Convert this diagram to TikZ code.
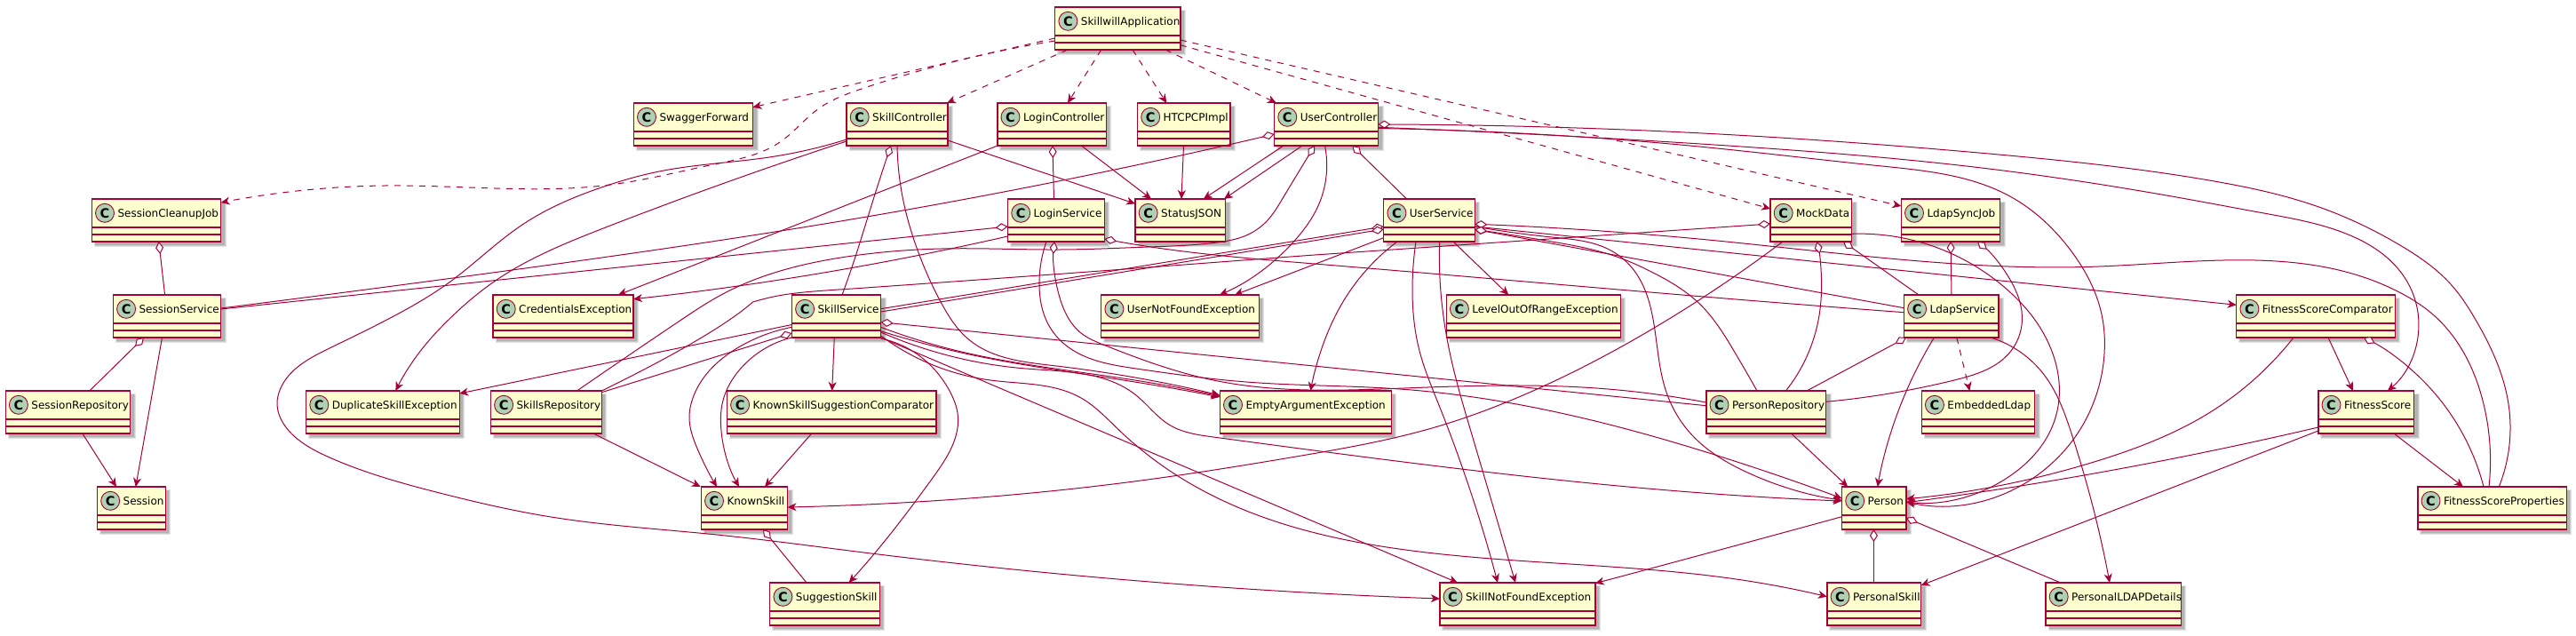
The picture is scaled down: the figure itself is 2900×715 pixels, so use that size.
\documentclass[tikz,border=0pt]{standalone}
\usepackage{fontspec}
\setmainfont{DejaVu Sans}
\usetikzlibrary{arrows.meta,hobby}
\definecolor{uline}{HTML}{A80036}
\definecolor{ufill}{HTML}{FEFECE}
\definecolor{ucirc}{HTML}{ADD1B2}
\tikzset{
  clsbox/.style={draw=uline,fill=ufill,line width=1.4pt,rectangle,inner sep=0pt,outer sep=0pt,anchor=north west,minimum height=48pt},
  clstext/.style={anchor=base west,inner sep=0pt,font=\fontsize{12}{14}\selectfont},
  clscirc/.style={circle,draw=uline,fill=ucirc,line width=.9pt,minimum size=21pt,inner sep=0pt},
  clsc/.style={inner sep=0pt,font=\fontsize{14.5}{16}\selectfont\bfseries},
  sep/.style={draw=uline,line width=1.4pt},
  shd/.style={fill=black,fill opacity=.11},
  conn/.style={draw=uline,line width=1pt},
  dep/.style={conn,-{Stealth[length=10pt,width=9pt,inset=3pt,fill=uline]}},
  depd/.style={dep,dash pattern=on 7pt off 7pt},
  agg/.style={conn,{Diamond[length=14pt,width=9pt,fill=white,line width=1pt]}-},
  hob/.style={use Hobby shortcut}
}
\newcommand{\cls}[5]{%
  \pgfmathsetmacro{\clsW}{#3-#2}%
  \fill[shd] (#2+2.5,#4+2.5) rectangle (#3+6,#4+54);
  \fill[shd] (#2+3.5,#4+3.5) rectangle (#3+5,#4+53);
  \fill[shd] (#2+4,#4+4) rectangle (#3+4,#4+52);
  \node[clsbox,minimum width=\clsW pt] (#1) at (#2,#4) {};
  \draw[sep] (#2,#4+32) -- (#3,#4+32);
  \draw[sep] (#2,#4+40) -- (#3,#4+40);
  \node[clscirc] (#1C) at (#2+14.7,#4+15.8) {};
  \node[clsc] (#1K) at (#2+14.7,#4+15.8) {C};
  \node[clstext] (#1T) at (#2+29,#4+20) {#5};
}
\begin{document}
\begin{tikzpicture}[x=1pt,y=-1pt]
\useasboundingbox (0,0) rectangle (2900,715);
\fill[white] (0,0) rectangle (2900,715);
% classes
\cls{SkillwillApplication}{1187.7}{1328.8}{8}{SkillwillApplication}
\cls{SwaggerForward}{713.3}{847.5}{116}{SwaggerForward}
\cls{SkillController}{953}{1067}{116}{SkillController}
\cls{LoginController}{1122.8}{1245.3}{116}{LoginController}
\cls{HTCPCPImpl}{1280.5}{1385}{116}{HTCPCPImpl}
\cls{UserController}{1434.6}{1551.5}{116}{UserController}
\cls{SessionCleanupJob}{103.3}{248.7}{224}{SessionCleanupJob}
\cls{LoginService}{1134.5}{1243.4}{224}{LoginService}
\cls{StatusJSON}{1278}{1379.5}{224}{StatusJSON}
\cls{UserService}{1557.7}{1660.3}{224}{UserService}
\cls{MockData}{1993}{2084.6}{224}{MockData}
\cls{LdapSyncJob}{2140.3}{2251.7}{224}{LdapSyncJob}
\cls{SessionService}{127.4}{248.7}{332}{SessionService}
\cls{CredentialsException}{555}{713}{332}{CredentialsException}
\cls{SkillService}{891.4}{991.6}{332}{SkillService}
\cls{UserNotFoundException}{1239.7}{1417.2}{332}{UserNotFoundException}
\cls{LevelOutOfRangeException}{1628.2}{1824.3}{332}{LevelOutOfRangeException}
\cls{LdapService}{2143.4}{2249.8}{332}{LdapService}
\cls{FitnessScoreComparator}{2517.7}{2696.4}{332}{FitnessScoreComparator}
\cls{SessionRepository}{6.2}{146.6}{440}{SessionRepository}
\cls{DuplicateSkillException}{344.6}{517.2}{440}{DuplicateSkillException}
\cls{SkillsRepository}{552.4}{677.4}{440}{SkillsRepository}
\cls{KnownSkillSuggestionComparator}{818.4}{1054}{440}{KnownSkillSuggestionComparator}
\cls{EmptyArgumentException}{1373.3}{1566.3}{440}{EmptyArgumentException}
\cls{PersonRepository}{1920.8}{2055.6}{440}{PersonRepository}
\cls{EmbeddedLdap}{2163.2}{2290.6}{440}{EmbeddedLdap}
\cls{FitnessScore}{2609.8}{2717.5}{440}{FitnessScore}
\cls{Session}{109.5}{186.2}{548}{Session}
\cls{KnownSkill}{789.3}{886.5}{548}{KnownSkill}
\cls{Person}{2073.5}{2145.9}{548}{Person}
\cls{FitnessScoreProperties}{2721.8}{2889.4}{548}{FitnessScoreProperties}
\cls{SuggestionSkill}{866.7}{990.4}{656}{SuggestionSkill}
\cls{SkillNotFoundException}{1620.8}{1795.8}{656}{SkillNotFoundException}
\cls{PersonalSkill}{2056.8}{2162.6}{656}{PersonalSkill}
\cls{PersonalLDAPDetails}{2303}{2455.2}{656}{PersonalLDAPDetails}
% SkillwillApplication
\draw[depd] (SkillwillApplication.west |- 0,43) -- (SwaggerForward.east |- 0,120.7);
\draw[depd,hob] (SkillwillApplication.west |- 0,46) .. (970,100) .. (922,122) .. (878,160) .. (804,185) .. (687,208) .. (557,212) .. (433,209) .. (334,215) .. (SessionCleanupJob.east |- 0,228);
\draw[depd] (SkillwillApplication.south -| 1202,0) -- (SkillController.north -| 1066,0);
\draw[depd] (SkillwillApplication.south -| 1239.7,0) -- (LoginController.north -| 1202,0);
\draw[depd] (SkillwillApplication.south -| 1275,0) -- (HTCPCPImpl.north -| 1313.3,0);
\draw[depd] (SkillwillApplication.south -| 1312,0) -- (UserController.north -| 1437,0);
\draw[depd] (SkillwillApplication.east |- 0,50.7) -- (MockData.west |- 0,235);
\draw[depd] (SkillwillApplication.east |- 0,45) -- (LdapSyncJob.west |- 0,232);
% SkillController
\draw[dep] (SkillController.east |- 0,158) -- (StatusJSON.west |- 0,229.3);
\draw[agg,hob] (SkillController.south -| 1003,0) .. (983,225) .. (960,298) .. (SkillService.north -| 948,0);
\draw[dep,hob] (SkillController.south -| 1010,0) .. (1016.7,225) .. (1033,281.7) .. (1060,341.7) .. (1090,381.7) .. (1186.7,411.7) .. (EmptyArgumentException.west |- 0,445);
\draw[dep,hob] (SkillController.west |- 0,157) .. (866,177) .. (742,193) .. (680,210) .. (588,253) .. (507,317) .. (445,355) .. (371,392) .. (315.5,438) .. (312,455) .. (328,488) .. (371,515) .. (495,555) .. (618.6,581.7) .. (804,601.7) .. (970,621.7) .. (SkillNotFoundException.west |- 0,674);
\draw[dep,hob] (SkillController.west |- 0,159) .. (680,256.7) .. (556.7,316.7) .. (507,358) .. (476,391.7) .. (DuplicateSkillException.north -| 445.4,0);
% LoginController
\draw[dep] (LoginController.south -| 1217.4,0) -- (StatusJSON.north -| 1296,0);
\draw[agg] (LoginController.south -| 1185,0) -- (LoginService.north -| 1186.5,0);
\draw[dep] (LoginController.south -| 1123,0) -- (CredentialsException.north -| 696,0);
% HTCPCPImpl
\draw[dep] (HTCPCPImpl.south -| 1332.5,0) -- (StatusJSON.north -| 1330,0);
% UserController
\draw[dep] (UserController.south -| 1445,0) -- (StatusJSON.north -| 1354.8,0);
\draw[dep] (UserController.south -| 1466,0) -- (StatusJSON.north -| 1378,0);
\draw[agg,hob] (UserController.west |- 0,151) .. (970,245) .. (556.7,306.7) .. (SessionService.east |- 0,347);
\draw[agg] (UserController.south -| 1522.4,0) -- (UserService.north -| 1583.6,0);
\draw[agg,hob] (UserController.south -| 1480,0) .. (1443,225) .. (1427,248) .. (1403,265) .. (1370,273) .. (1293,278) .. (1193,281) .. (1060,280) .. (960,288) .. (810,333) .. (767,360) .. (SkillsRepository.north -| 649.5,0);
\draw[dep,hob] (UserController.south -| 1491.5,0) .. (1483.4,233) .. (1460,268) .. (UserNotFoundException.north -| 1373,0);
\draw[agg,hob] (UserController.east |- 0,140) .. (1930,150.7) .. (2239,173) .. (2487,203) .. (2610.5,233) .. (2703,276.7) .. (2759,320) .. (2787,360) .. (2824,455) .. (FitnessScoreProperties.north -| 2813.3,0);
\draw[dep,hob] (UserController.east |- 0,143.3) .. (1930,163) .. (2239,190) .. (2456,223) .. (2548.6,240) .. (2641,263) .. (2703,306.7) .. (2722,352) .. (FitnessScore.north -| 2687.8,0);
\draw[dep,hob] (UserController.east |- 0,144.5) .. (1930,166.7) .. (2115.6,186.7) .. (2264,221.7) .. (2332,283) .. (2366,354) .. (2369,398) .. (2326,505) .. (Person.east |- 0,565);
% LoginService
\draw[agg] (LoginService.west |- 0,255) -- (SessionService.east |- 0,348);
\draw[dep,hob] (LoginService.west |- 0,266) .. (1000,294) .. (CredentialsException.east |- 0,336.7);
\draw[agg,hob] (LoginService.east |- 0,269) .. (1276.7,275) .. (1480,297) .. (1930,335) .. (LdapService.west |- 0,351.7);
\draw[dep,hob] (LoginService.south -| 1178,0) .. (1170,321.7) .. (1180,365) .. (1199,388) .. (1279,415) .. (1403,430) .. (1576,438) .. (1940,515) .. (Person.west |- 0,561);
\draw[agg,hob] (LoginService.south -| 1187,0) .. (1193,335) .. (1217,375) .. (1242,388) .. (1366,428) .. (1588.6,436.7) .. (1792.7,436.7) .. (PersonRepository.west |- 0,453);
% UserService
\draw[agg] (UserService.west |- 0,255) -- (SkillService.east |- 0,347.7);
\draw[agg] (UserService.west |- 0,258) -- (SkillService.east |- 0,351);
\draw[dep] (UserService.west |- 0,267.7) -- (UserNotFoundException.north -| 1390,0);
\draw[dep,hob] (UserService.south -| 1573,0) .. (1513,338) .. (1487,395) .. (EmptyArgumentException.north -| 1475.4,0);
\draw[dep,hob] (UserService.south -| 1594,0) .. (1590,325) .. (1598,395) .. (1619.5,455) .. (SkillNotFoundException.north -| 1686,0);
\draw[dep,hob] (UserService.south -| 1620.7,0) .. (1621.7,325) .. (1631.7,395) .. (1656.6,488) .. (SkillNotFoundException.north -| 1706,0);
\draw[dep] (UserService.south -| 1636,0) -- (LevelOutOfRangeException.north -| 1698.3,0);
\draw[agg,hob] (UserService.east |- 0,252.3) .. (1930,270.7) .. (2363,300) .. (2703,330) .. (2740,355) .. (2796,455) .. (FitnessScoreProperties.north -| 2802,0);
\draw[dep] (UserService.east |- 0,255) -- (FitnessScoreComparator.west |- 0,343.3);
\draw[agg] (UserService.east |- 0,258.3) -- (LdapService.west |- 0,346.7);
\draw[dep,hob] (UserService.east |- 0,255) .. (1747,267) .. (1813,281.7) .. (1840,305) .. (1857,341.7) .. (1876,441.7) .. (1905,490) .. (1966.7,531.7) .. (Person.west |- 0,563);
\draw[agg,hob] (UserService.east |- 0,258.3) .. (1747,272) .. (1820,289) .. (1863,308) .. (1913,341.7) .. (1952,395) .. (PersonRepository.north -| 1978,0);
% MockData
\draw[agg] (MockData.west |- 0,252) -- (1480,287) .. controls (1370,295) and (1260,304) .. (960,325) .. controls (895,329) and (878,331) .. (847.5,340) .. controls (836,350) and (800,380) .. (SkillsRepository.north east);
\draw[dep,hob] (MockData.south -| 2007,0) .. (1885.5,355) .. (1737,435) .. (1613,481.7) .. (1465,513) .. (1279,541.7) .. (1032,565) .. (KnownSkill.east |- 0,571);
\draw[dep,hob] (MockData.east |- 0,263.3) .. (2264,330) .. (2288.6,357) .. (2313.5,471.7) .. (2264,535) .. (Person.east |- 0,565);
\draw[agg,hob] (MockData.south -| 2045.7,0) .. (2050.6,320) .. (2047.5,358) .. (PersonRepository.north -| 2010.4,0);
\draw[agg] (MockData.south -| 2075,0) -- (LdapService.north -| 2160,0);
% LdapSyncJob
\draw[agg] (LdapSyncJob.south -| 2196,0) -- (LdapService.north -| 2197,0);
\draw[agg,hob] (LdapSyncJob.south -| 2226,0) .. (2264,316.7) .. (2276.4,355) .. (2264,395) .. (2200,428) .. (PersonRepository.east |- 0,452.3);
% LdapService
\draw[agg] (LdapService.south -| 2146,0) -- (PersonRepository.north -| 2034,0);
\draw[dep,hob] (LdapService.south -| 2177.4,0) .. (2140,455) .. (Person.north -| 2113.7,0);
\draw[depd] (LdapService.south -| 2202.8,0) -- (EmbeddedLdap.north -| 2217.4,0);
\draw[dep,hob] (LdapService.south -| 2241,0) .. (2301,421.7) .. (2332,488) .. (PersonalLDAPDetails.north -| 2375,0);
% SkillService
\draw[dep] (SkillService.west |- 0,365.5) -- (DuplicateSkillException.east |- 0,443);
\draw[agg] (SkillService.west |- 0,375) -- (SkillsRepository.east |- 0,441.7);
\draw[dep,hob] (SkillService.west |- 0,368.3) .. (836.7,388) .. (780,448) .. (776,471) .. (785,505) .. (KnownSkill.north -| 807,0);
\draw[dep,hob] (SkillService.west |- 0,380) .. (836.7,411.7) .. (813,455) .. (811.7,481.7) .. (KnownSkill.north -| 832,0);
\draw[dep] (SkillService.south -| 939.3,0) -- (KnownSkillSuggestionComparator.north -| 936.7,0);
\draw[agg] (SkillService.east |- 0,362.7) -- (PersonRepository.west |- 0,456.7);
\draw[dep,hob] (SkillService.east |- 0,368.3) .. (1070,393) .. (1290,430) .. (EmptyArgumentException.west |- 0,446);
\draw[dep,hob] (SkillService.east |- 0,372.7) .. (1086.7,398) .. (1290,432) .. (EmptyArgumentException.west |- 0,447);
\draw[dep,hob] (SkillService.east |- 0,374) .. (1155,415) .. (1279,445) .. (1316,478) .. (1366,492) .. (1940,556.7) .. (Person.west |- 0,564);
\draw[dep,hob] (SkillService.east |- 0,378) .. (1115,428) .. (1217,448) .. (1260.6,485) .. (1940,650) .. (PersonalSkill.west |- 0,671.7);
\draw[dep] (SkillService.east |- 0,380) -- (SkillNotFoundException.north -| 1641,0);
\draw[dep,hob] (SkillService.east |- 0,381) .. (1037,402) .. (1070,442) .. (1078,465) .. (1050,538) .. (970,640) .. (SuggestionSkill.north -| 955.6,0);
% others
\draw[dep] (KnownSkillSuggestionComparator.south -| 913.7,0) -- (KnownSkill.north -| 861,0);
\draw[dep] (SkillsRepository.south -| 668,0) -- (KnownSkill.north -| 788.7,0);
\draw[agg] (SessionCleanupJob.south -| 178.8,0) -- (SessionService.north -| 185.6,0);
\draw[agg] (SessionService.south -| 162,0) -- (SessionRepository.north -| 100.8,0);
\draw[dep] (SessionService.south -| 182.5,0) -- (Session.north -| 152.8,0);
\draw[dep] (SessionRepository.south -| 92.8,0) -- (Session.north -| 131,0);
\draw[agg] (KnownSkill.south -| 859,0) -- (SuggestionSkill.north -| 908,0);
\draw[dep] (PersonRepository.south -| 2016.6,0) -- (Person.north -| 2080.2,0);
\draw[dep,hob] (FitnessScoreComparator.south -| 2582,0) .. (2486.7,465) .. (2363,518.3) .. (Person.east |- 0,561.7);
\draw[dep] (FitnessScoreComparator.south -| 2621,0) -- (FitnessScore.north -| 2648.8,0);
\draw[agg,hob] (FitnessScoreComparator.south -| 2661,0) .. (2734,435) .. (FitnessScoreProperties.north -| 2796,0);
\draw[dep,hob] (FitnessScore.west |- 0,481) .. (2579.5,488) .. (Person.east |- 0,565.7);
\draw[dep] (FitnessScore.west |- 0,485) -- (PersonalSkill.east |- 0,659);
\draw[dep] (FitnessScore.south -| 2695,0) -- (FitnessScoreProperties.north -| 2773,0);
\draw[dep,hob] (Person.west |- 0,581.7) .. (1930,620.7) .. (SkillNotFoundException.east |- 0,656.7);
\draw[agg] (Person.south -| 2109.4,0) -- (PersonalSkill.north -| 2109.4,0);
\draw[agg] (Person.east |- 0,583) -- (PersonalLDAPDetails.north -| 2319.7,0);
\end{tikzpicture}
\end{document}
